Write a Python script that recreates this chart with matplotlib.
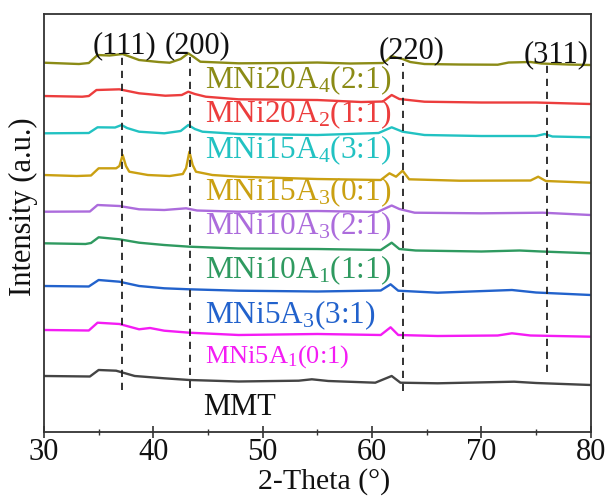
import matplotlib
matplotlib.use("Agg")
import matplotlib.pyplot as plt
from matplotlib.ticker import MultipleLocator

plt.rcParams['font.family'] = ['Liberation Serif', 'DejaVu Serif']
plt.rcParams['mathtext.default'] = 'regular'

# XRD patterns (relative intensity read at selected 2-theta points), stacked by offset
names = ['MNi20A$_4$(2:1)', 'MNi20A$_2$(1:1)', 'MNi15A$_4$(3:1)', 'MNi15A$_3$(0:1)',
         'MNi10A$_3$(2:1)', 'MNi10A$_1$(1:1)', 'MNi5A$_3$(3:1)', 'MNi5A$_1$(0:1)', 'MMT']
colors = ['#8b8b16', '#ec3d3d', '#22c2c2', '#caa012', '#ac6cdc',
          '#2f9a60', '#2262cc', '#f41cf4', '#444444']
text_colors = colors[:-1] + ['#111111']
offsets = [372, 339, 302, 260, 223, 192, 149, 105, 59]

two_theta = [
    [30, 33.2, 34.1, 34.9, 36.0, 37.2, 38.7, 40.5, 41.5, 42.5, 43.2, 43.7, 44.3, 47.8, 52, 55, 58,
     61.0, 61.4, 61.8, 62.2, 62.8, 63.5, 64.8, 68, 71.5, 72.5, 74.5, 75.5, 78, 80],
    [30, 33.5, 34.1, 34.8, 36.9, 38.7, 41.1, 42.6, 43.2, 43.8, 44.8, 47.8, 55, 59, 61.0, 61.8, 62.5,
     64.8, 70, 75, 80],
    [30, 34.1, 34.9, 36.5, 37.1, 37.6, 38.7, 41, 42.5, 43.2, 43.8, 44.5, 47.8, 55, 60.6, 61.8, 62.8,
     64.8, 70, 75, 75.8, 76.5, 80],
    [30, 33, 34.3, 35.0, 36.6, 36.9, 37.2, 37.5, 37.8, 39.5, 41.5, 42.7, 43.0, 43.3, 43.6, 43.9, 45.4,
     47.8, 55, 60.8, 61.6, 62.2, 62.8, 63.4, 68, 74.5, 75.2, 75.9, 80],
    [30, 34.2, 34.9, 36.9, 38.7, 41, 43, 44, 47.8, 55, 60.5, 61.8, 62.5, 63.9, 70, 75.6, 80],
    [30, 33.8, 34.3, 35.0, 36.9, 38.7, 41, 43.3, 47.8, 55, 60.8, 61.8, 62.5, 64, 70, 73.5, 75.5, 80],
    [30, 34.1, 35.0, 36.9, 38.7, 41, 43.3, 47.8, 55, 60.8, 61.7, 62.4, 66, 72.8, 75, 80],
    [30, 34.1, 34.9, 36.9, 38.7, 39.7, 41, 43.3, 47.8, 55, 60.8, 61.7, 62.4, 66, 71.5, 72.8, 74.5, 80],
    [30, 34.2, 35.0, 36.6, 38.3, 41, 43.3, 47.8, 53.3, 54.5, 56, 60.3, 61.8, 62.6, 66, 73, 75, 80],
]
intensity = [
    [0.3, -1, 0, 8, 7.5, 9, 3, 1, 0.3, 4, 9.7, 6, 1.3, -0.3, 0, 0.5, -0.5,
     0, 3, 7, 5.5, 4, 1, -1, -1.5, -1.7, 0.5, 1, -0.5, -1.5, -2],
    [0, -0.7, 0, 6, 6.7, 2.7, 0.3, 1, 4.3, 2, -0.7, -3.3, -4, -6, -5.5, 1, -3,
     -5.7, -6.5, -6.5, -8],
    [-0.3, 0, 5.7, 5.5, 8, 5, 1.3, -0.3, 2, 8, 4, 1.3, -1, -2, 0, 5.7, 1.3,
     -2, -3, -3, -1, -3.5, -4.3],
    [0, -1, -0.5, 6.7, 6.7, 9, 20, 9, 3.3, 0, -1, 1, 7, 23.3, 10, 3.3, 0,
     -1.7, -4, -5, 1.7, -1.7, 4.3, -4.3, -5.7, -5.5, -1.7, -6, -7.7],
    [0.3, 0.5, 7, 6, 2.7, 2, 3.7, 1.5, 0.3, 1, 0, 6.5, 3, -0.7, -1.3, -0.7, -3],
    [-0.3, -1, 0, 5.7, 3.7, 0.3, -2, -3.7, -5.5, -6, -7, 0.3, -6, -7.5, -8.5, -7.5, -8.5, -10.3],
    [0, -0.5, 6, 4.3, 0, -2.3, -3.3, -4.7, -5.5, -4.5, 1.7, -4.7, -6.7, -4, -6.5, -9],
    [0, -0.5, 7.3, 6, 0.7, 2, -0.7, -2.7, -5, -4, -5, 2.7, -5, -6, -5.5, -3.3, -5.5, -6.7],
    [0, -0.5, 6, 5.3, 0, -2.3, -4, -5.5, -4.7, -3.3, -5, -6.7, 0, -6.7, -7.3, -5.7, -7, -9],
]

# reflection positions and their labels
hkl_pos = [37.1, 43.4, 62.8, 76.0]
hkl_span = [(45, 378), (47, 378), (44, 372), (63, 370)]
hkl_text = ['(111)', '(200)', '(220)', '(311)']
hkl_text_xy = [(37.4, 382), (44.0, 382), (63.6, 377), (76.85, 373)]

label_xy = [(44.73, 347), (44.73, 313), (44.73, 277), (44.73, 235), (44.73, 201),
            (44.73, 157), (44.73, 112), (44.73, 72), (44.55, 20)]
label_size = [22.5, 22.5, 22.5, 22.5, 22.5, 22.5, 22.5, 19, 22]

fig = plt.figure(figsize=(6.09, 4.97), dpi=100)
ax = fig.add_axes([0.0722, 0.1308, 0.8977, 0.8410])

for x, y, off, c in zip(two_theta, intensity, offsets, colors):
    ax.plot(x, [v + off for v in y], color=c, lw=1.7, solid_joinstyle='round')

for xp, (y0, y1) in zip(hkl_pos, hkl_span):
    ax.plot([xp, xp], [y0, y1], color='#222222', lw=1.3, ls=(0, (4, 3.2)))

for t, (tx, ty) in zip(hkl_text, hkl_text_xy):
    ax.text(tx, ty, t, ha='center', va='baseline', fontsize=22, color='#111111')

for t, (tx, ty), c, fs in zip(names, label_xy, text_colors, label_size):
    ax.text(tx, ty, t, ha='left', va='baseline', fontsize=fs, color=c)

ax.set_xlim(30, 80)
ax.set_ylim(3, 421)
ax.xaxis.set_major_locator(MultipleLocator(10))
ax.xaxis.set_minor_locator(MultipleLocator(5))
ax.tick_params(axis='x', which='major', direction='inout', length=8, width=1.2,
               labelsize=22, pad=0.5, colors='#333333', labelcolor='#111111')
ax.tick_params(axis='x', which='minor', direction='inout', length=5, width=1.0, colors='#333333')
ax.set_yticks([])
for s in ax.spines.values():
    s.set_linewidth(1.3)
    s.set_color('#333333')

fig.text(0.532, 0.017, '2-Theta (°)', ha='center', va='baseline', fontsize=21.5, color='#111111')
ax.text(-0.037, 0.538, 'Intensity (a.u.)', transform=ax.transAxes, rotation=90,
        ha='center', va='center', fontsize=22, color='#111111')

fig.savefig('out.png', dpi=100)
